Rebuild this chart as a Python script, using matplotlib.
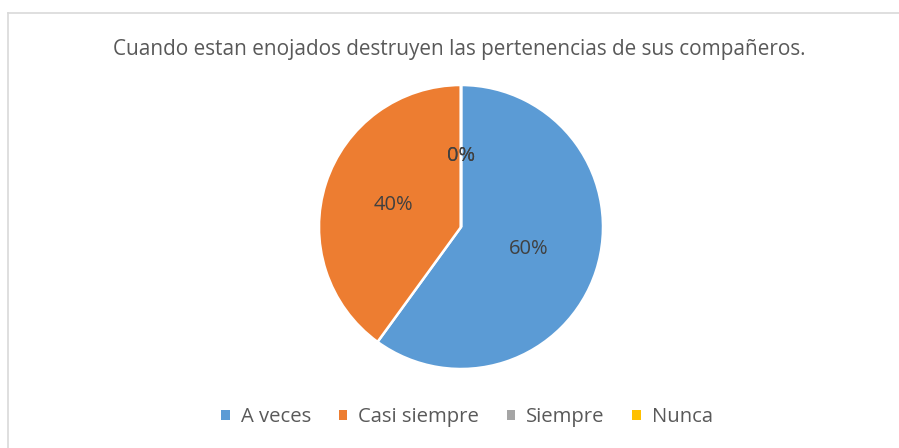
import matplotlib
matplotlib.use("Agg")
import matplotlib.pyplot as plt
from matplotlib.lines import Line2D
from matplotlib.patches import Patch

title = "Cuando estan enojados destruyen las pertenencias de sus compañeros."
categories = ["A veces", "Casi siempre", "Siempre", "Nunca"]
values = [60, 40, 0, 0]
colors = ["#5B9BD5", "#ED7D31", "#A5A5A5", "#FFC000"]

plt.rcParams['font.family'] = ['Open Sans', 'DejaVu Sans']

W, H = 899, 448
fig = plt.figure(figsize=(W / 100, H / 100), dpi=100)

# border (top and left visible)
fig.add_artist(Line2D([8 / W, 1], [1 - 13 / H, 1 - 13 / H], color="#D9D9D9", lw=1.2))
fig.add_artist(Line2D([8 / W, 8 / W], [0, 1 - 13 / H], color="#D9D9D9", lw=1.2))

cx, cy, r = 461, 227, 142
ax = fig.add_axes([(cx - r) / W, 1 - (cy + r) / H, 2 * r / W, 2 * r / H])
wedges, texts, autotexts = ax.pie(
    values, colors=colors, startangle=90, counterclock=False,
    autopct=lambda p: f"{p:.0f}%", pctdistance=0.5, radius=1,
    wedgeprops=dict(edgecolor="white", linewidth=1.8),
    textprops=dict(color="#404040", fontsize=14.5))
ax.set_xlim(-1, 1)
ax.set_ylim(-1, 1)
ax.set_aspect("equal")
ax.axis("off")

fig.text(459.5 / W, 1 - 50 / H, title, ha="center", va="center",
         fontsize=14.95, color="#595959")

handles = [Patch(facecolor=c, edgecolor="none") for c in colors]
fig.legend(handles, categories, loc="center", bbox_to_anchor=(467 / W, 1 - 417 / H),
           ncol=4, frameon=False, fontsize=14.6, labelcolor="#595959",
           handlelength=0.42, handleheight=0.42, handletextpad=0.55, columnspacing=1.35)

fig.savefig("out.png", dpi=100)
